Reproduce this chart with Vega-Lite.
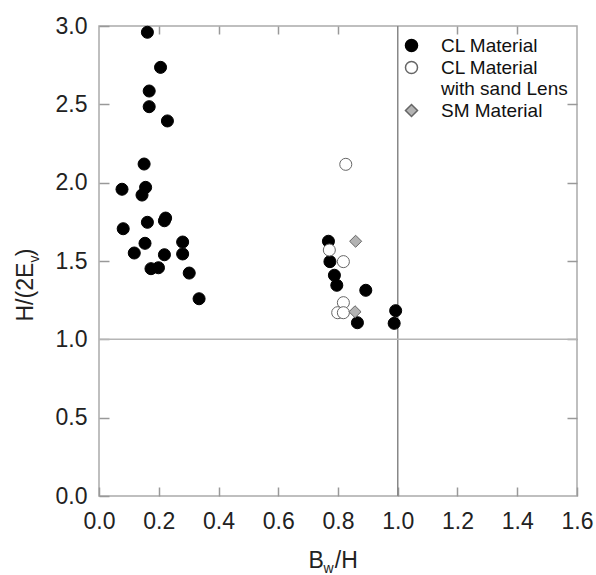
{
  "$schema": "https://vega.github.io/schema/vega-lite/v6.json",
  "width": 478,
  "height": 470,
  "autosize": "none",
  "padding": {"left": 99, "top": 26, "right": 19, "bottom": 79},
  "background": "white",
  "config": {
    "view": {"stroke": "#aaaaaa", "strokeWidth": 1.5},
    "font": "Liberation Sans",
    "axis": {"grid": false, "domain": false, "tickColor": "#999999", "tickSize": -9, "tickWidth": 1.5, "labelFlush": false, "labelOverlap": false, "labelFont": "Liberation Sans", "labelFontSize": 23, "labelColor": "#222222", "titleFont": "Liberation Sans", "titleFontWeight": "normal", "titleColor": "#222222"}
  },
  "datasets": {
    "pts": [
      {"bw": 0.162, "h2e": 2.96, "mat": "CL Material"},
      {"bw": 0.206, "h2e": 2.736, "mat": "CL Material"},
      {"bw": 0.168, "h2e": 2.585, "mat": "CL Material"},
      {"bw": 0.168, "h2e": 2.485, "mat": "CL Material"},
      {"bw": 0.229, "h2e": 2.394, "mat": "CL Material"},
      {"bw": 0.151, "h2e": 2.119, "mat": "CL Material"},
      {"bw": 0.077, "h2e": 1.958, "mat": "CL Material"},
      {"bw": 0.156, "h2e": 1.97, "mat": "CL Material"},
      {"bw": 0.144, "h2e": 1.921, "mat": "CL Material"},
      {"bw": 0.081, "h2e": 1.706, "mat": "CL Material"},
      {"bw": 0.162, "h2e": 1.747, "mat": "CL Material"},
      {"bw": 0.223, "h2e": 1.774, "mat": "CL Material"},
      {"bw": 0.219, "h2e": 1.757, "mat": "CL Material"},
      {"bw": 0.118, "h2e": 1.551, "mat": "CL Material"},
      {"bw": 0.154, "h2e": 1.613, "mat": "CL Material"},
      {"bw": 0.174, "h2e": 1.451, "mat": "CL Material"},
      {"bw": 0.199, "h2e": 1.457, "mat": "CL Material"},
      {"bw": 0.219, "h2e": 1.54, "mat": "CL Material"},
      {"bw": 0.28, "h2e": 1.621, "mat": "CL Material"},
      {"bw": 0.28, "h2e": 1.545, "mat": "CL Material"},
      {"bw": 0.302, "h2e": 1.423, "mat": "CL Material"},
      {"bw": 0.335, "h2e": 1.259, "mat": "CL Material"},
      {"bw": 0.768, "h2e": 1.626, "mat": "CL Material"},
      {"bw": 0.773, "h2e": 1.496, "mat": "CL Material"},
      {"bw": 0.788, "h2e": 1.409, "mat": "CL Material"},
      {"bw": 0.796, "h2e": 1.345, "mat": "CL Material"},
      {"bw": 0.893, "h2e": 1.313, "mat": "CL Material"},
      {"bw": 0.865, "h2e": 1.106, "mat": "CL Material"},
      {"bw": 0.993, "h2e": 1.183, "mat": "CL Material"},
      {"bw": 0.988, "h2e": 1.102, "mat": "CL Material"},
      {"bw": 0.826, "h2e": 2.117, "mat": "CL Material with sand Lens"},
      {"bw": 0.771, "h2e": 1.57, "mat": "CL Material with sand Lens"},
      {"bw": 0.818, "h2e": 1.496, "mat": "CL Material with sand Lens"},
      {"bw": 0.818, "h2e": 1.234, "mat": "CL Material with sand Lens"},
      {"bw": 0.799, "h2e": 1.17, "mat": "CL Material with sand Lens"},
      {"bw": 0.818, "h2e": 1.17, "mat": "CL Material with sand Lens"},
      {"bw": 0.859, "h2e": 1.626, "mat": "SM Material"},
      {"bw": 0.857, "h2e": 1.176, "mat": "SM Material"}
    ],
    "vline": [{"v": 1.0}],
    "hline": [{"v": 1.0}]
  },
  "layer": [
    {
      "data": {"name": "vline"},
      "mark": {"type": "rule", "color": "#888888", "strokeWidth": 1.5},
      "encoding": {
        "x": {"field": "v", "type": "quantitative",
          "scale": {"domain": [0, 1.6], "nice": false, "zero": false},
          "axis": {"orient": "top", "values": [0.2, 0.4, 0.6, 0.8, 1.2, 1.4], "labels": false, "tickSize": -8,
            "title": "w", "titleFontSize": 14, "titleAlign": "left", "titleBaseline": "alphabetic", "titleAngle": 0, "titleX": 224, "titleY": 546}}
      }
    },
    {
      "data": {"name": "hline"},
      "mark": {"type": "rule", "color": "#b5b5b5", "strokeWidth": 1.5},
      "encoding": {
        "y": {"field": "v", "type": "quantitative",
          "scale": {"domain": [0, 3], "nice": false, "zero": false},
          "axis": {"orient": "right", "values": [0.5, 1.0, 1.5, 2.0, 2.5], "labels": false, "tickSize": -10,
            "title": "v", "titleFontSize": 14, "titleAlign": "left", "titleBaseline": "alphabetic", "titleAngle": 270, "titleX": -539, "titleY": 236}}
      }
    },
    {
      "data": {"name": "pts"},
      "mark": {"type": "point", "filled": true, "opacity": 1, "strokeWidth": 1},
      "encoding": {
        "x": {"field": "bw", "type": "quantitative",
          "scale": {"domain": [0, 1.6], "nice": false, "zero": false},
          "axis": {"orient": "bottom", "values": [0, 0.2, 0.4, 0.6, 0.8, 1.0, 1.2, 1.4, 1.6], "format": ".1f", "labelPadding": 23,
            "title": "B \u2009/H", "titleFontSize": 23, "titleAlign": "left", "titleBaseline": "alphabetic", "titleAngle": 0, "titleX": 209, "titleY": 71}},
        "y": {"field": "h2e", "type": "quantitative",
          "scale": {"domain": [0, 3], "nice": false, "zero": false},
          "axis": {"orient": "left", "values": [0, 0.5, 1.0, 1.5, 2.0, 2.5, 3.0], "format": ".1f", "labelPadding": 22, "tickSize": -10,
            "title": "H/(2E )", "titleFontSize": 23, "titleAlign": "left", "titleBaseline": "alphabetic", "titleAngle": 270, "titleX": -67, "titleY": 295}},
        "shape": {"field": "mat", "type": "nominal", "title": null,
          "scale": {"domain": ["CL Material", "CL Material with sand Lens", "SM Material"], "range": ["circle", "circle", "diamond"]}},
        "fill": {"field": "mat", "type": "nominal", "title": null,
          "scale": {"domain": ["CL Material", "CL Material with sand Lens", "SM Material"], "range": ["#000000", "#ffffff", "#b3b3b3"]}},
        "stroke": {"field": "mat", "type": "nominal", "title": null,
          "scale": {"domain": ["CL Material", "CL Material with sand Lens", "SM Material"], "range": ["#000000", "#666666", "#666666"]}},
        "size": {"field": "mat", "type": "nominal", "title": null,
          "scale": {"domain": ["CL Material", "CL Material with sand Lens", "SM Material"], "range": [145, 145, 215]},
          "legend": {"orient": "none", "legendX": 303, "legendY": 10, "labelFont": "Liberation Sans", "labelFontSize": 19, "labelColor": "#111111",
            "labelOffset": 20, "rowPadding": 2, "padding": 0, "labelLimit": 300,
            "labelExpr": "datum.label == 'CL Material with sand Lens' ? ['CL Material', 'with sand Lens'] : datum.label"}}
      }
    }
  ],
  "resolve": {"scale": {"x": "independent", "y": "independent"}}
}
